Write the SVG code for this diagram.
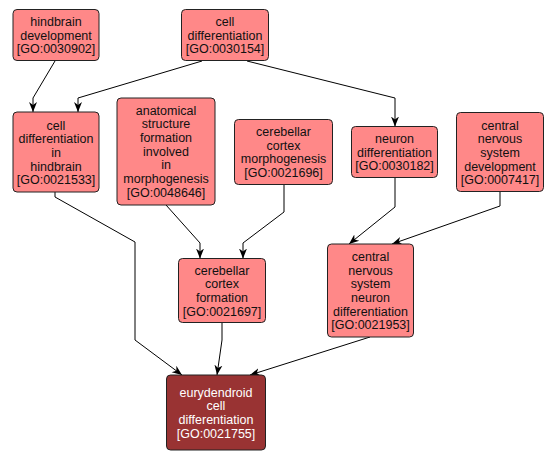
<svg xmlns="http://www.w3.org/2000/svg" width="555" height="460" viewBox="0 0 555 460">
<defs>
<marker id="arr" markerUnits="userSpaceOnUse" markerWidth="10" markerHeight="10" viewBox="0 0 10 10" refX="10" refY="5" orient="auto">
<path d="M0,1 L10,5 L0,9 L3,5 z" fill="#000"/>
</marker>
<style>
.n rect{fill:#FF8888;stroke:#222;stroke-width:1}
.n text{font-family:"Liberation Sans",Arial,sans-serif;font-size:12.5px;fill:#111;text-anchor:middle}
.d rect{fill:#993333;stroke:#222;stroke-width:1}
.d text{font-family:"Liberation Sans",Arial,sans-serif;font-size:12.5px;fill:#fff;text-anchor:middle}
.e polyline{fill:none;stroke:#000;stroke-width:1;marker-end:url(#arr)}
</style>
</defs>
<rect width="555" height="460" fill="#fff"/>
<g id="edges" class="e">
<polyline points="55,61 33,98 33,112"/>
<polyline points="202,61 78,98 78,112"/>
<polyline points="247,61 395,98 395,126.5"/>
<polyline points="55,192 55,197 135,242 135,340 182,375"/>
<polyline points="166,205 200,243 200,258.5"/>
<polyline points="284,185 284,212 243,243 243,258.5"/>
<polyline points="395,177.5 395,207 349,244"/>
<polyline points="500,192 500,206 392,244"/>
<polyline points="222,323 222,340 217,375"/>
<polyline points="370,337 250,375"/>
</g>
<g id="n1" class="n"><rect x="13" y="9.5" width="86" height="51" rx="4"/>
<text x="56" y="26">hindbrain</text><text x="56" y="39.7">development</text><text x="56" y="53.4">[GO:0030902]</text></g>
<g id="n2" class="n"><rect x="181.5" y="9.5" width="87" height="51" rx="4"/>
<text x="225" y="26">cell</text><text x="225" y="39.7">differentiation</text><text x="225" y="53.4">[GO:0030154]</text></g>
<g id="n3" class="n"><rect x="13" y="112" width="86" height="80" rx="4"/>
<text x="56" y="129.5">cell</text><text x="56" y="143.2">differentiation</text><text x="56" y="156.9">in</text><text x="56" y="170.6">hindbrain</text><text x="56" y="184.3">[GO:0021533]</text></g>
<g id="n4" class="n"><rect x="117" y="98" width="98" height="107" rx="4"/>
<text x="166" y="114.5">anatomical</text><text x="166" y="128.2">structure</text><text x="166" y="141.9">formation</text><text x="166" y="155.6">involved</text><text x="166" y="169.3">in</text><text x="166" y="183">morphogenesis</text><text x="166" y="196.7">[GO:0048646]</text></g>
<g id="n5" class="n"><rect x="234.5" y="119.5" width="98" height="65" rx="4"/>
<text x="283.5" y="136">cerebellar</text><text x="283.5" y="149.7">cortex</text><text x="283.5" y="163.4">morphogenesis</text><text x="283.5" y="177.1">[GO:0021696]</text></g>
<g id="n6" class="n"><rect x="351.5" y="126.5" width="86" height="51" rx="4"/>
<text x="394.5" y="142.8">neuron</text><text x="394.5" y="156.5">differentiation</text><text x="394.5" y="170.2">[GO:0030182]</text></g>
<g id="n7" class="n"><rect x="456.5" y="112.5" width="87" height="79" rx="4"/>
<text x="500" y="129.5">central</text><text x="500" y="143.2">nervous</text><text x="500" y="156.9">system</text><text x="500" y="170.6">development</text><text x="500" y="184.3">[GO:0007417]</text></g>
<g id="n8" class="n"><rect x="178.5" y="258.5" width="87" height="64" rx="4"/>
<text x="222" y="274.5">cerebellar</text><text x="222" y="288.2">cortex</text><text x="222" y="301.9">formation</text><text x="222" y="315.6">[GO:0021697]</text></g>
<g id="n9" class="n"><rect x="327.5" y="244" width="86" height="93" rx="4"/>
<text x="370.5" y="260.8">central</text><text x="370.5" y="274.5">nervous</text><text x="370.5" y="288.2">system</text><text x="370.5" y="301.9">neuron</text><text x="370.5" y="315.6">differentiation</text><text x="370.5" y="329.3">[GO:0021953]</text></g>
<g id="n10" class="d"><rect x="166.5" y="375" width="99" height="75" rx="4"/>
<text x="216" y="396.5">eurydendroid</text><text x="216" y="410.2">cell</text><text x="216" y="423.9">differentiation</text><text x="216" y="437.6">[GO:0021755]</text></g>
</svg>
